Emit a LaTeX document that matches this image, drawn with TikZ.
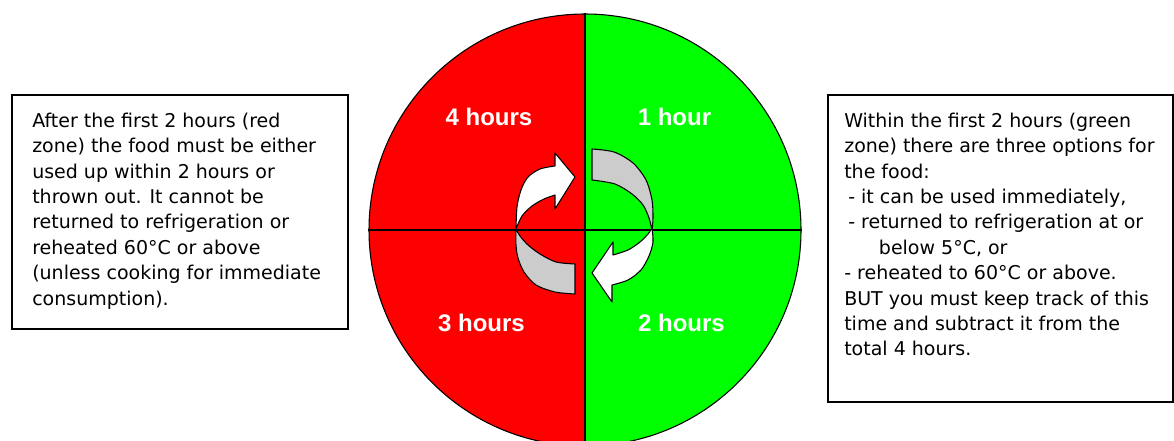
\documentclass[tikz,border=0pt]{standalone}
\usepackage{fontspec}
\newfontfamily\boxfont{DejaVu Sans}
\newfontfamily\labfont{Liberation Sans}
\definecolor{zonered}{HTML}{FF0000}
\definecolor{zonegreen}{HTML}{00FF00}
\definecolor{ribbongrey}{HTML}{CCCCCC}
\begin{document}
\begin{tikzpicture}[x=0.75pt,y=-0.75pt,
  infobox/.style={draw=black, line width=1.5pt, fill=white, rectangle, inner sep=0pt, anchor=north west},
  infotext/.style={font=\boxfont\fontsize{14.25}{19.05}\selectfont, align=left, anchor=north west, inner sep=0pt},
  hourlabel/.style={font=\labfont\bfseries\fontsize{18}{20}\selectfont, text=white, anchor=base, inner sep=0pt},
  backside/.style={fill=ribbongrey, draw=black, line width=0.8pt, line join=round},
  frontside/.style={fill=white, draw=black, line width=0.8pt, line join=round},
  divider/.style={draw=black, line width=1.2pt}
]
\useasboundingbox (0,0) rectangle (1174,441);
\clip (0,0) rectangle (1174,441);

% dial
\begin{scope}
  \clip (585,230) circle[radius=162pt];
  \fill[zonered] (360,0) rectangle (585,460);
  \fill[zonegreen] (585,0) rectangle (810,460);
\end{scope}
\node[circle, draw=black, line width=0.8pt, minimum size=324pt, inner sep=0pt] (dial) at (585,230) {};
\draw[divider] (dial.north) -- (dial.south);
\draw[divider] (dial.west) -- (dial.east);

% left arrow (red side)
\filldraw[backside] plot[smooth] coordinates {(516,229) (516,245) (518,258) (524,272) (536,285) (555,292) (575,294)}
  -- (575,264) -- plot[smooth] coordinates {(575,264) (556,262) (540,254) (528,245) (520,236) (516,229)} -- cycle;
\filldraw[frontside] plot[smooth] coordinates {(516,229) (517,207) (521,190) (528,177) (540,169) (555,166)}
  -- (555,153) -- (575,177) -- (555,209) -- (555,195)
  -- plot[smooth] coordinates {(555,195) (544,199) (532,206) (522,216) (516,229)} -- cycle;

% right arrow (green side)
\filldraw[backside] plot[smooth] coordinates {(592,149) (614,152) (633,163) (646,180) (652,200) (653,218) (652,230)}
  -- plot[smooth] coordinates {(652,230) (649,218) (643,205) (632,194) (615,184) (592,180)} -- cycle;
\filldraw[frontside] plot[smooth] coordinates {(652,228) (653,242) (649,256) (641,270) (628,280) (612,285)}
  -- (612,302) -- (592,273) -- (613,242) -- (613,255)
  -- plot[smooth] coordinates {(613,255) (628,250) (640,242) (648,234) (652,228)} -- cycle;

% hour labels
\node[hourlabel] (h4) at (489,126) {4 hours};
\node[hourlabel] (h1) at (674.5,126) {1 hour};
\node[hourlabel] (h3) at (481.5,332) {3 hours};
\node[hourlabel] (h2) at (681.5,332) {2 hours};

% info boxes
\node[infobox, minimum width=252pt, minimum height=175.5pt] (leftbox) at (11,94) {};
\node[infotext] (lefttext) at (32,112.6) {After the first 2 hours (red\\
zone) the food must be either\\
used up within 2 hours or\\
thrown out. It cannot be\\
returned to refrigeration or\\
reheated 60°C or above\\
(unless cooking for immediate\\
consumption).};

\node[infobox, minimum width=258.75pt, minimum height=230.25pt] (rightbox) at (827,94) {};
\node[infotext] (righttext) at (844,112.6) {Within the first 2 hours (green\\
zone) there are three options for\\
the food:\\
\hspace*{3pt}- it can be used immediately,\\
\hspace*{3pt}- returned to refrigeration at or\\
\hspace*{26pt}below 5°C, or\\
- reheated to 60°C or above.\\
BUT you must keep track of this\\
time and subtract it from the\\
total 4 hours.};
\end{tikzpicture}
\end{document}
